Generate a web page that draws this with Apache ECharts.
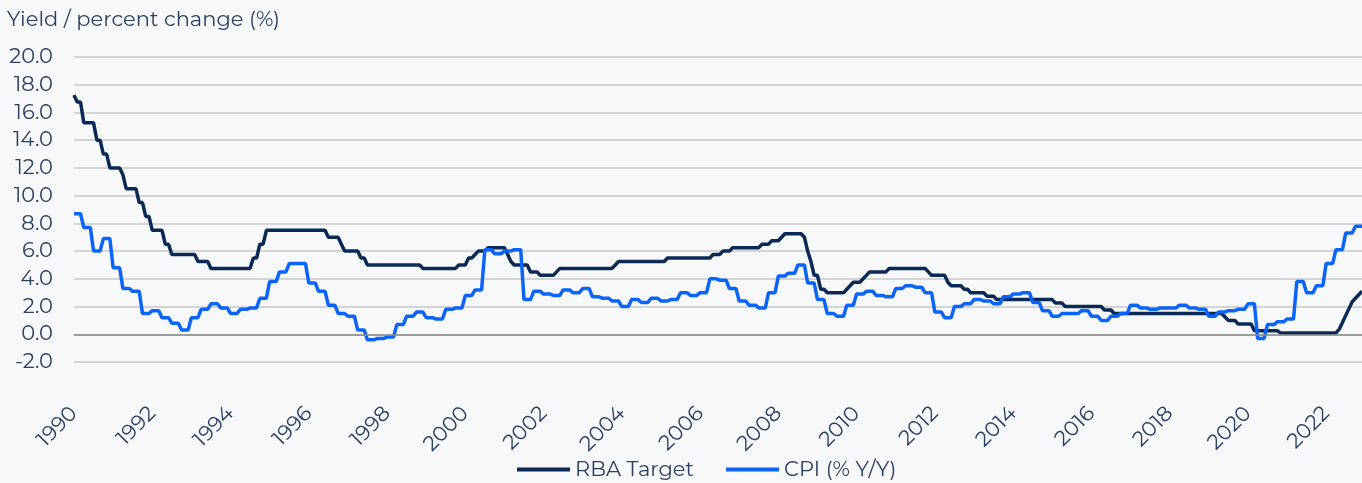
<!DOCTYPE html>
<html>
<head>
<meta charset="utf-8">
<script src="https://cdn.jsdelivr.net/npm/echarts@6/dist/echarts.min.js"></script>
<style>
  html, body { margin: 0; padding: 0; background: #f6f8fa; }
  #chart { width: 1362px; height: 483px; }
</style>
</head>
<body>
<div id="chart"></div>
<script>
// years covered, monthly points Jan 1990 - Dec 2022
const years = [1990, 1991, 1992, 1993, 1994, 1995, 1996, 1997, 1998, 1999, 2000,
  2001, 2002, 2003, 2004, 2005, 2006, 2007, 2008, 2009, 2010, 2011,
  2012, 2013, 2014, 2015, 2016, 2017, 2018, 2019, 2020, 2021, 2022]

// RBA cash rate target, monthly (one row per year)
const rbaTarget = [
  17.25, 16.75, 16.75, 15.25, 15.25, 15.25, 15.25, 14.0, 14.0, 13.0, 13.0, 12.0,
  12.0, 12.0, 12.0, 11.5, 10.5, 10.5, 10.5, 10.5, 9.5, 9.5, 8.5, 8.5,
  7.5, 7.5, 7.5, 7.5, 6.5, 6.5, 5.75, 5.75, 5.75, 5.75, 5.75, 5.75,
  5.75, 5.75, 5.25, 5.25, 5.25, 5.25, 4.75, 4.75, 4.75, 4.75, 4.75, 4.75,
  4.75, 4.75, 4.75, 4.75, 4.75, 4.75, 4.75, 5.5, 5.5, 6.5, 6.5, 7.5,
  7.5, 7.5, 7.5, 7.5, 7.5, 7.5, 7.5, 7.5, 7.5, 7.5, 7.5, 7.5,
  7.5, 7.5, 7.5, 7.5, 7.5, 7.5, 7.0, 7.0, 7.0, 7.0, 6.5, 6.0,
  6.0, 6.0, 6.0, 6.0, 5.5, 5.5, 5.0, 5.0, 5.0, 5.0, 5.0, 5.0,
  5.0, 5.0, 5.0, 5.0, 5.0, 5.0, 5.0, 5.0, 5.0, 5.0, 5.0, 4.75,
  4.75, 4.75, 4.75, 4.75, 4.75, 4.75, 4.75, 4.75, 4.75, 4.75, 5.0, 5.0,
  5.0, 5.5, 5.5, 5.75, 6.0, 6.0, 6.0, 6.25, 6.25, 6.25, 6.25, 6.25,
  6.25, 5.75, 5.25, 5.0, 5.0, 5.0, 5.0, 5.0, 4.5, 4.5, 4.5, 4.25,
  4.25, 4.25, 4.25, 4.25, 4.5, 4.75, 4.75, 4.75, 4.75, 4.75, 4.75, 4.75,
  4.75, 4.75, 4.75, 4.75, 4.75, 4.75, 4.75, 4.75, 4.75, 4.75, 5.0, 5.25,
  5.25, 5.25, 5.25, 5.25, 5.25, 5.25, 5.25, 5.25, 5.25, 5.25, 5.25, 5.25,
  5.25, 5.25, 5.5, 5.5, 5.5, 5.5, 5.5, 5.5, 5.5, 5.5, 5.5, 5.5,
  5.5, 5.5, 5.5, 5.5, 5.75, 5.75, 5.75, 6.0, 6.0, 6.0, 6.25, 6.25,
  6.25, 6.25, 6.25, 6.25, 6.25, 6.25, 6.25, 6.5, 6.5, 6.5, 6.75, 6.75,
  6.75, 7.0, 7.25, 7.25, 7.25, 7.25, 7.25, 7.25, 7.0, 6.0, 5.25, 4.25,
  4.25, 3.25, 3.25, 3.0, 3.0, 3.0, 3.0, 3.0, 3.0, 3.25, 3.5, 3.75,
  3.75, 3.75, 4.0, 4.25, 4.5, 4.5, 4.5, 4.5, 4.5, 4.5, 4.75, 4.75,
  4.75, 4.75, 4.75, 4.75, 4.75, 4.75, 4.75, 4.75, 4.75, 4.75, 4.5, 4.25,
  4.25, 4.25, 4.25, 4.25, 3.75, 3.5, 3.5, 3.5, 3.5, 3.25, 3.25, 3.0,
  3.0, 3.0, 3.0, 3.0, 2.75, 2.75, 2.75, 2.5, 2.5, 2.5, 2.5, 2.5,
  2.5, 2.5, 2.5, 2.5, 2.5, 2.5, 2.5, 2.5, 2.5, 2.5, 2.5, 2.5,
  2.5, 2.25, 2.25, 2.25, 2.0, 2.0, 2.0, 2.0, 2.0, 2.0, 2.0, 2.0,
  2.0, 2.0, 2.0, 2.0, 1.75, 1.75, 1.75, 1.5, 1.5, 1.5, 1.5, 1.5,
  1.5, 1.5, 1.5, 1.5, 1.5, 1.5, 1.5, 1.5, 1.5, 1.5, 1.5, 1.5,
  1.5, 1.5, 1.5, 1.5, 1.5, 1.5, 1.5, 1.5, 1.5, 1.5, 1.5, 1.5,
  1.5, 1.5, 1.5, 1.5, 1.5, 1.25, 1.0, 1.0, 1.0, 0.75, 0.75, 0.75,
  0.75, 0.75, 0.25, 0.25, 0.25, 0.25, 0.25, 0.25, 0.25, 0.25, 0.1, 0.1,
  0.1, 0.1, 0.1, 0.1, 0.1, 0.1, 0.1, 0.1, 0.1, 0.1, 0.1, 0.1,
  0.1, 0.1, 0.1, 0.1, 0.35, 0.85, 1.35, 1.85, 2.35, 2.6, 2.85, 3.1
]

// CPI % y/y, quarterly (Mar, Jun, Sep, Dec per row)
const cpiQuarterly = [
  8.7, 7.7, 6.0, 6.9,
  4.8, 3.3, 3.1, 1.5,
  1.7, 1.2, 0.8, 0.3,
  1.2, 1.8, 2.2, 1.9,
  1.5, 1.8, 1.9, 2.6,
  3.8, 4.5, 5.1, 5.1,
  3.7, 3.1, 2.1, 1.5,
  1.3, 0.3, -0.4, -0.3,
  -0.2, 0.7, 1.3, 1.6,
  1.2, 1.1, 1.8, 1.9,
  2.8, 3.2, 6.1, 5.8,
  6.0, 6.1, 2.5, 3.1,
  2.9, 2.8, 3.2, 3.0,
  3.3, 2.7, 2.6, 2.4,
  2.0, 2.5, 2.3, 2.6,
  2.4, 2.5, 3.0, 2.8,
  3.0, 4.0, 3.9, 3.3,
  2.4, 2.1, 1.9, 3.0,
  4.2, 4.4, 5.0, 3.7,
  2.5, 1.5, 1.3, 2.1,
  2.9, 3.1, 2.8, 2.7,
  3.3, 3.5, 3.4, 3.0,
  1.6, 1.2, 2.0, 2.2,
  2.5, 2.4, 2.2, 2.7,
  2.9, 3.0, 2.3, 1.7,
  1.3, 1.5, 1.5, 1.7,
  1.3, 1.0, 1.3, 1.5,
  2.1, 1.9, 1.8, 1.9,
  1.9, 2.1, 1.9, 1.8,
  1.3, 1.6, 1.7, 1.8,
  2.2, -0.3, 0.7, 0.9,
  1.1, 3.8, 3.0, 3.5,
  5.1, 6.1, 7.3, 7.8
]

const months = ['01', '02', '03', '04', '05', '06', '07', '08', '09', '10', '11', '12']

const textColor = '#2b3f61'
const fontFamily = 'Montserrat, "Noto Sans", sans-serif'

// monthly category labels, and CPI quarter value held for each month of the quarter
const categories = []
years.forEach((y) => months.forEach((m) => categories.push(y + '-' + m)))
const cpiMonthly = []
cpiQuarterly.forEach((v) => cpiMonthly.push(v, v, v))

const chart = echarts.init(document.getElementById('chart'))

const option = {
  backgroundColor: '#f6f8fa',
  animation: false,
  textStyle: { fontFamily: fontFamily },
  title: {
    text: 'Yield / percent change (%)',
    left: 2,
    top: 4,
    textStyle: {
      color: textColor,
      fontSize: 21,
      fontWeight: 'normal',
      fontFamily: fontFamily
    }
  },
  legend: {
    left: 517,
    top: 459,
    padding: 0,
    icon: 'rect',
    itemWidth: 53,
    itemHeight: 4,
    itemGap: 32,
    textStyle: { color: textColor, fontSize: 21 },
    data: ['RBA Target', 'CPI (% Y/Y)']
  },
  grid: {
    left: 74,
    right: 0,
    top: 57,
    bottom: 121,
    outerBoundsMode: 'none'
  },
  xAxis: {
    type: 'category',
    data: categories,
    boundaryGap: false,
    axisLine: { show: false, onZero: false },
    axisTick: { show: false },
    axisLabel: {
      rotate: 45,
      margin: 48,
      color: textColor,
      fontSize: 21,
      interval: (index) => index % 24 === 0,
      formatter: (value) => value.slice(0, 4)
    },
    splitLine: { show: false }
  },
  yAxis: {
    type: 'value',
    min: -2,
    max: 20,
    interval: 2,
    axisLine: { show: false },
    axisTick: { show: false },
    axisLabel: {
      color: textColor,
      fontSize: 21,
      margin: 21,
      formatter: (v) => v.toFixed(1)
    },
    splitLine: { lineStyle: { color: '#c8c9cb', width: 1.5 } }
  },
  series: [
    {
      name: 'RBA Target',
      type: 'line',
      data: rbaTarget,
      showSymbol: false,
      symbol: 'none',
      itemStyle: { color: '#0a2a55' },
      lineStyle: { color: '#0a2a55', width: 3.5 },
      z: 3,
      markLine: {
        silent: true,
        symbol: 'none',
        label: { show: false },
        lineStyle: { color: '#8a8a8a', width: 1.5, type: 'solid' },
        data: [{ yAxis: 0 }]
      }
    },
    {
      name: 'CPI (% Y/Y)',
      type: 'line',
      data: cpiMonthly,
      showSymbol: false,
      symbol: 'none',
      itemStyle: { color: '#0a64fa' },
      lineStyle: { color: '#0a64fa', width: 3.5 },
      z: 4
    }
  ]
}

chart.setOption(option)

window.addEventListener('resize', () => {
  chart.resize()
})
</script>
</body>
</html>
